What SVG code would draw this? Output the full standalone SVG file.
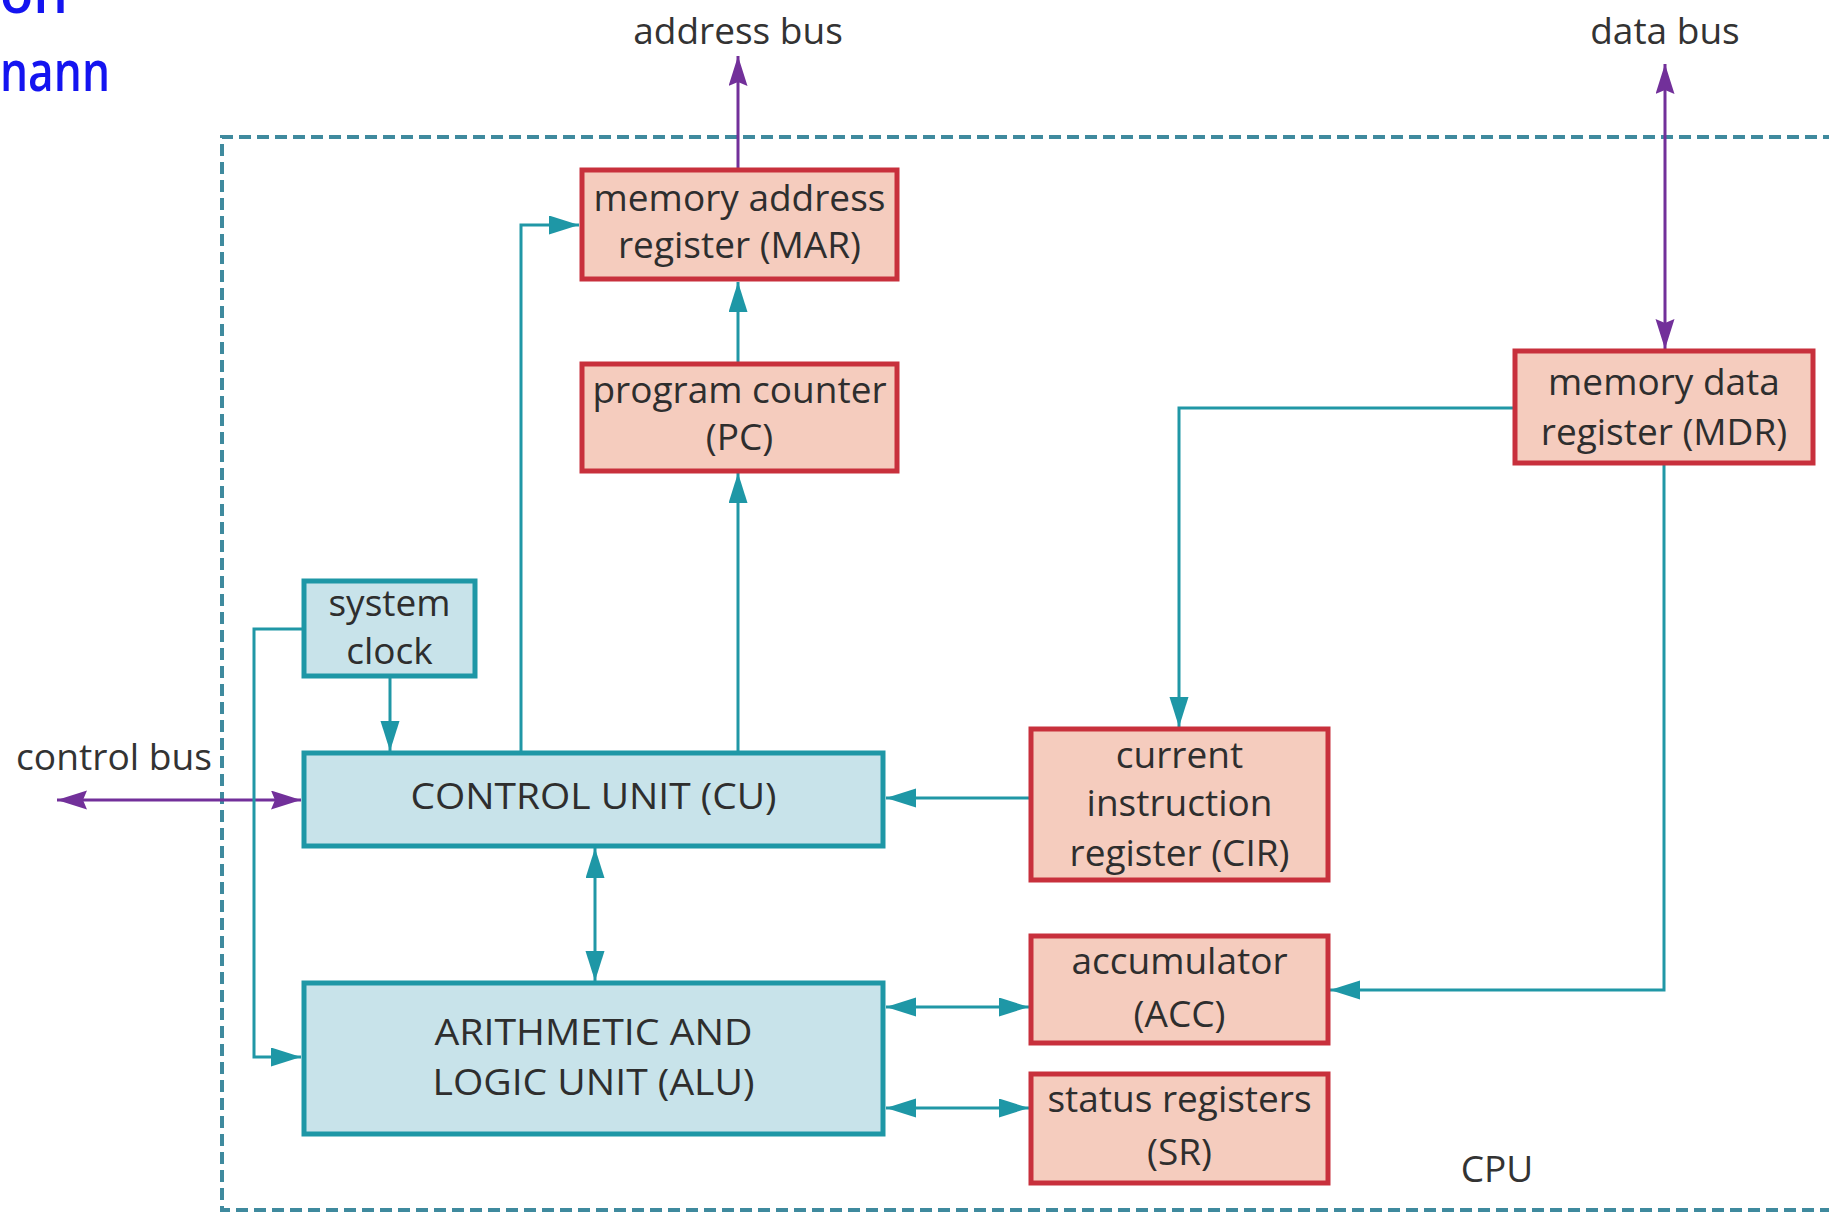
<svg xmlns="http://www.w3.org/2000/svg" width="1829" height="1215" viewBox="0 0 1829 1215">
<defs>
<style>
.txt{font-family:"Open Sans","Noto Sans","DejaVu Sans",sans-serif;font-size:37px;fill:#2e2e2e;text-anchor:middle}
.lbl{font-family:"Open Sans","Noto Sans","DejaVu Sans",sans-serif;font-size:37px;fill:#333333}
.title{font-family:"Open Sans","Noto Sans","DejaVu Sans",sans-serif;font-size:56px;font-weight:600;fill:#1414f0}
.red{fill:#f5ccbe;stroke:#c8303c;stroke-width:5}
.teal{fill:#c8e3ea;stroke:#1e97a6;stroke-width:5}
.c{fill:none;stroke:#2097a6;stroke-width:3}
.p{fill:none;stroke:#72309a;stroke-width:3}
.cpu{fill:none;stroke:#3f8a9e;stroke-width:4;stroke-dasharray:12 6}
</style>
<marker id="at" markerUnits="userSpaceOnUse" markerWidth="32" markerHeight="22" refX="30" refY="9.5" orient="auto-start-reverse">
<path d="M0,0 L30,9.5 L0,19 z" fill="#1e97a6"/>
</marker>
<marker id="ap" markerUnits="userSpaceOnUse" markerWidth="32" markerHeight="22" refX="30" refY="9.5" orient="auto-start-reverse">
<path d="M0,0 L30,9.5 L0,19 L4,9.5 z" fill="#72309a"/>
</marker>
</defs>
<rect width="1829" height="1215" fill="#ffffff"/>
<g id="title">
<text class="title" x="0" y="13" textLength="68" lengthAdjust="spacingAndGlyphs">on</text>
<text class="title" x="0" y="91" textLength="110" lengthAdjust="spacingAndGlyphs">nann</text>
</g>
<g id="cpu-boundary">
<path class="cpu" d="M1835,137 H222 V1210 H1835"/>
<text class="lbl" x="1497" y="1182" text-anchor="middle">CPU</text>
</g>
<g id="connectors">
<path class="p" d="M738,169 V56" marker-end="url(#ap)"/>
<path class="p" d="M1665,64 V349" marker-start="url(#ap)" marker-end="url(#ap)"/>
<path class="p" d="M57,800 H301" marker-start="url(#ap)" marker-end="url(#ap)"/>
<path class="c" d="M738,362 V282" marker-end="url(#at)"/>
<path class="c" d="M738,751 V473" marker-end="url(#at)"/>
<path class="c" d="M521,751 V225 H579" marker-end="url(#at)"/>
<path class="c" d="M1513,408 H1179 V727" marker-end="url(#at)"/>
<path class="c" d="M1664,465 V990 H1330" marker-end="url(#at)"/>
<path class="c" d="M1029,798 H886" marker-end="url(#at)"/>
<path class="c" d="M390,678 V751" marker-end="url(#at)"/>
<path class="c" d="M302,629 H254 V1057 H301" marker-end="url(#at)"/>
<path class="c" d="M595,848 V981" marker-start="url(#at)" marker-end="url(#at)"/>
<path class="c" d="M886,1007 H1029" marker-start="url(#at)" marker-end="url(#at)"/>
<path class="c" d="M886,1108 H1029" marker-start="url(#at)" marker-end="url(#at)"/>
</g>
<g id="labels">
<text class="lbl" x="738" y="44" text-anchor="middle">address bus</text>
<text class="lbl" x="1665" y="44" text-anchor="middle">data bus</text>
<text class="lbl" x="16" y="770" textLength="196" lengthAdjust="spacingAndGlyphs">control bus</text>
</g>
<g id="mar">
<rect class="red" x="582" y="170" width="315" height="109"/>
<text class="txt" x="739.5" y="211">memory address</text>
<text class="txt" x="739.5" y="258">register (MAR)</text>
</g>
<g id="pc">
<rect class="red" x="582" y="364" width="315" height="107"/>
<text class="txt" x="739.5" y="403">program counter</text>
<text class="txt" x="739.5" y="450">(PC)</text>
</g>
<g id="mdr">
<rect class="red" x="1515" y="351" width="298" height="112"/>
<text class="txt" x="1664" y="395">memory data</text>
<text class="txt" x="1664" y="445">register (MDR)</text>
</g>
<g id="clock">
<rect class="teal" x="304" y="581" width="171" height="95"/>
<text class="txt" x="389.5" y="616">system</text>
<text class="txt" x="389.5" y="664">clock</text>
</g>
<g id="cu">
<rect class="teal" x="304" y="753" width="579" height="93"/>
<text class="txt" x="593.5" y="809" textLength="366" lengthAdjust="spacingAndGlyphs">CONTROL UNIT (CU)</text>
</g>
<g id="alu">
<rect class="teal" x="304" y="983" width="579" height="151"/>
<text class="txt" x="593.5" y="1045" textLength="318" lengthAdjust="spacingAndGlyphs">ARITHMETIC AND</text>
<text class="txt" x="593.5" y="1095" textLength="322" lengthAdjust="spacingAndGlyphs">LOGIC UNIT (ALU)</text>
</g>
<g id="cir">
<rect class="red" x="1031" y="729" width="297" height="151"/>
<text class="txt" x="1179.5" y="768">current</text>
<text class="txt" x="1179.5" y="816">instruction</text>
<text class="txt" x="1179.5" y="866">register (CIR)</text>
</g>
<g id="acc">
<rect class="red" x="1031" y="936" width="297" height="107"/>
<text class="txt" x="1179.5" y="974">accumulator</text>
<text class="txt" x="1179.5" y="1027">(ACC)</text>
</g>
<g id="sr">
<rect class="red" x="1031" y="1074" width="297" height="109"/>
<text class="txt" x="1179.5" y="1112">status registers</text>
<text class="txt" x="1179.5" y="1165">(SR)</text>
</g>
</svg>
